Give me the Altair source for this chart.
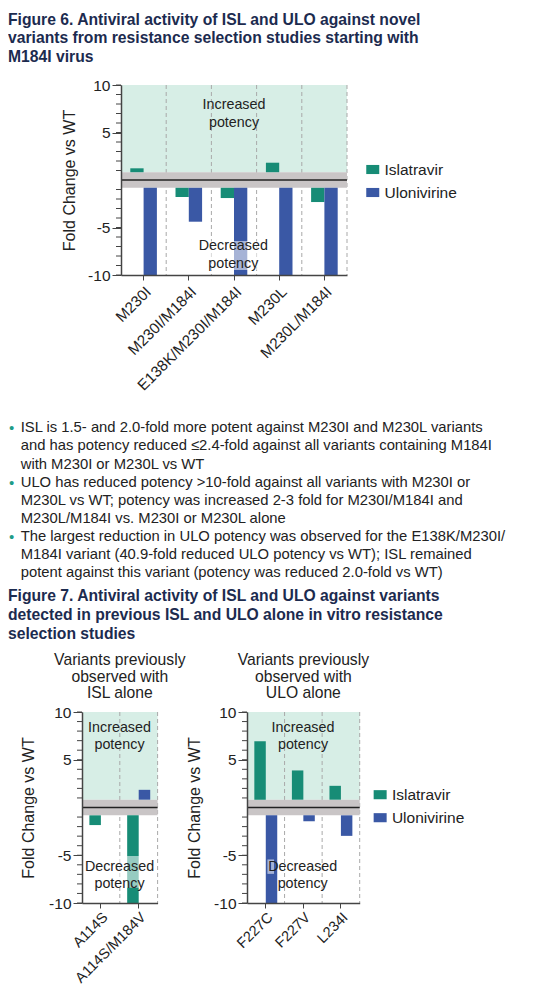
import altair as alt
import numpy as np
import pandas as pd

FONT = "Liberation Sans"
NAVY = "#1c2b4f"
TXT = "#222222"
TEAL = "#178c76"
BLUE = "#3a58a5"
MINT = "#d7eee6"
BANDGRAY = "#c9c5c6"
GRID = "#a9a9a9"
AX = "#444444"
DOT = "#1f9c88"
BAND = 0.82

# ---------------- data ----------------
drugs = ["Islatravir", "Ulonivirine"]

fig6_variants = ["M230I", "M230I/M184I", "E138K/M230I/M184I", "M230L", "M230L/M184I"]
fig6_isl = [1.23, -1.79, -1.9, 1.82, -2.32]
fig6_ulo = [-10, -4.39, -10, -10, -10]

fig7a_variants = ["A114S", "A114S/M184V"]
fig7a_isl = [-1.84, -10]
fig7a_ulo = [0, 1.85]

fig7b_variants = ["F227C", "F227V", "L234I"]
fig7b_isl = [6.95, 3.88, 2.27]
fig7b_ulo = [-10, -1.43, -2.97]

major_ticks = [-10, -5, 5, 10]
minor_ticks = [v for v in range(-10, 11) if v != 0]

fig6_title = ["Figure 6. Antiviral activity of ISL and ULO against novel",
              "variants from resistance selection studies starting with",
              "M184I virus"]
bullet_lines = [
    "ISL is 1.5- and 2.0-fold more potent against M230I and M230L variants",
    "and has potency reduced \u22642.4-fold against all variants containing M184I",
    "with M230I or M230L vs WT",
    "ULO has reduced potency >10-fold against all variants with M230I or",
    "M230L vs WT; potency was increased 2-3 fold for M230I/M184I and",
    "M230L/M184I vs. M230I or M230L alone",
    "The largest reduction in ULO potency was observed for the E138K/M230I/",
    "M184I variant (40.9-fold reduced ULO potency vs WT); ISL remained",
    "potent against this variant (potency was reduced 2.0-fold vs WT)",
]
bullet_flags = [1, 0, 0, 1, 0, 0, 1, 0, 0]
fig7_title = ["Figure 7. Antiviral activity of ISL and ULO against variants",
              "detected in previous ISL and ULO alone in vitro resistance",
              "selection studies"]
panel_a_title = ["Variants previously", "observed with", "ISL alone"]
panel_b_title = ["Variants previously", "observed with", "ULO alone"]


def one():
    return pd.DataFrame({"k": [0]})


def panel(variants, isl, ulo, W, H, title_x, pad, notes, box,
          legend_xy=None, head=None, xfs=15.3, xpad=4):
    n = len(variants)
    df = pd.DataFrame({
        "variant": list(variants) * 2,
        "drug": [drugs[0]] * n + [drugs[1]] * n,
        "value": list(isl) + list(ulo),
    })
    df["base"] = np.sign(df["value"]) * BAND
    dvar = pd.DataFrame({"variant": list(variants)})

    ysc = alt.Scale(domain=[-10, 10], nice=False, zero=False)
    yax = alt.Axis(values=major_ticks, labelExpr="toString(datum.value)",
                   tickSize=9, tickColor=AX, tickWidth=1,
                   domainColor=AX, domainWidth=1.5, grid=False,
                   labelFontSize=15.5, labelFont=FONT, labelColor=TXT, labelPadding=2,
                   title="Fold Change vs WT", titleFontSize=16, titleFont=FONT,
                   titleFontWeight="normal", titleColor=TXT,
                   titleX=title_x, titleY=H / 2, titleAngle=270,
                   titleAlign="center", titleBaseline="middle", zindex=1)
    xsc = alt.Scale(paddingInner=0, paddingOuter=0)
    xax = alt.Axis(labelAngle=315, labelAlign="right", labelBaseline="top",
                   labelPadding=xpad, labelFontSize=xfs, labelFont=FONT, labelColor=TXT,
                   labelOverlap=False, labelLimit=400, tickSize=5, tickColor=AX,
                   domainColor=AX, domainWidth=1.5, grid=False, title=None, zindex=1)

    def X(**kw):
        return alt.X("variant:N", sort=list(variants), scale=xsc, axis=xax, title=None, **kw)

    def Yd(v):
        return alt.YDatum(v, type="quantitative", scale=ysc, axis=yax)

    bg = alt.Chart(one()).mark_rect(color=MINT).encode(
        x=alt.value(0), x2=alt.value(W), y=Yd(BAND), y2=alt.datum(10))
    rules = alt.Chart(dvar).mark_rule(color=GRID, strokeDash=[4, 3], strokeWidth=1).encode(
        x=X(bandPosition=1), y=Yd(10), y2=alt.datum(-10))
    band = alt.Chart(one()).mark_rect(color=BANDGRAY).encode(
        x=alt.value(0), x2=alt.value(W), y=Yd(-BAND), y2=alt.datum(BAND))
    zero = alt.Chart(one()).mark_rule(color=TXT, strokeWidth=1.3).encode(
        x=alt.value(0), x2=alt.value(W), y=Yd(0))
    minor = alt.Chart(pd.DataFrame({"t": minor_ticks})).mark_rule(color=AX, strokeWidth=1).encode(
        x=alt.value(-5), x2=alt.value(0),
        y=alt.Y("t:Q", scale=ysc, axis=yax))

    if legend_xy is None:
        leg = None
    else:
        leg = alt.Legend(title=None, orient="none", legendX=legend_xy[0], legendY=legend_xy[1],
                         symbolType="M-1,-0.7L1,-0.7L1,0.7L-1,0.7Z", symbolSize=169,
                         symbolStrokeWidth=0, labelFontSize=15.5, labelFont=FONT,
                         labelColor=TXT, rowPadding=6, labelOffset=4, padding=0,
                         direction="vertical")
    bars = alt.Chart(df).mark_bar().encode(
        x=X(),
        xOffset=alt.XOffset("drug:N", sort=drugs,
                            scale=alt.Scale(paddingInner=0, paddingOuter=pad)),
        y=alt.Y("value:Q", scale=ysc, axis=yax),
        y2="base",
        color=alt.Color("drug:N", scale=alt.Scale(domain=drugs, range=[TEAL, BLUE]), legend=leg),
    )
    wbox = alt.Chart(one()).mark_rect(color="white", opacity=0.55).encode(
        x=alt.value(box[0]), x2=alt.value(box[1]), y=Yd(box[2]), y2=alt.datum(box[3]))
    layers = [bg, rules, band, zero, minor, bars, wbox]
    for txt, xr, yv in notes:
        layers.append(alt.Chart(one()).mark_text(
            text=txt, fontSize=14.3, font=FONT, color=TXT, align="center", baseline="middle"
        ).encode(x=alt.value(xr), y=Yd(yv)))
    ch = alt.layer(*layers).properties(width=W, height=H)
    if head is not None:
        ch = ch.properties(title=alt.TitleParams(
            text=head, fontSize=15.7, font=FONT, fontWeight="normal", color=TXT,
            anchor="middle", frame="group", baseline="bottom", offset=-12, lineHeight=16.7))
    return ch


fig6 = panel(fig6_variants, fig6_isl, fig6_ulo, 226, 190, -52, 0.7,
             [("Increased", 113, 7.89), ("potency", 113, 6.03),
              ("Decreased", 112.3, -6.95), ("potency", 112.3, -8.81)],
             (77, 147, -6.42, -9.47), legend_xy=(244, 76.75))
left = panel(fig7a_variants, fig7a_isl, fig7a_ulo, 75.6, 191, -54, 0.64,
             [("Increased", 37.5, 8.35), ("potency", 37.5, 6.53),
              ("Decreased", 37.5, -6.26), ("potency", 37.5, -8.06)],
             (3, 72, -5.09, -8.41), head=panel_a_title, xfs=14.5, xpad=2)
right = panel(fig7b_variants, fig7b_isl, fig7b_ulo, 112.7, 191, -53, 0.64,
              [("Increased", 56, 8.35), ("potency", 56, 6.53),
               ("Decreased", 55.7, -6.26), ("potency", 55.7, -8.06)],
              (20.4, 27, -5.44, -6.95), legend_xy=(125.4, 74.95), head=panel_b_title,
              xfs=14.5, xpad=2)


def lines_layer(lines, y0, step, x, size, weight, color):
    n = len(lines)
    d = pd.DataFrame({"i": list(range(n)), "t": lines})
    return alt.Chart(d).mark_text(
        align="left", baseline="middle", fontSize=size, fontWeight=weight,
        color=color, font=FONT
    ).encode(
        x=alt.value(x),
        y=alt.Y("i:Q", axis=None, scale=alt.Scale(domain=[0, n - 1],
                range=[y0, y0 + step * (n - 1)], nice=False, zero=False)),
        text="t:N")


headA = lines_layer(fig6_title, 11.5, 18.65, 0, 15.7, "bold", NAVY).properties(width=533, height=70)

bdf = pd.DataFrame({"i": list(range(len(bullet_lines))), "t": bullet_lines, "b": bullet_flags})
B0 = 34.4
bscale = alt.Scale(domain=[0, len(bullet_lines) - 1],
                   range=[B0, B0 + 18.07 * (len(bullet_lines) - 1)], nice=False, zero=False)
btext = alt.Chart(bdf).mark_text(align="left", baseline="middle", fontSize=14.8,
                                 color=TXT, font=FONT).encode(
    x=alt.value(12.7), y=alt.Y("i:Q", axis=None, scale=bscale), text="t:N")
bdots = alt.Chart(bdf).transform_filter("datum.b == 1").mark_text(
    text="\u2022", align="center", baseline="middle", fontSize=15, color=DOT, font=FONT
).encode(x=alt.value(3.7), y=alt.Y("i:Q", axis=None, scale=bscale))
head7 = lines_layer(fig7_title, 202, 18.85, 0, 15.7, "bold", NAVY)
textB = alt.layer(btext, bdots, head7).resolve_scale(y="independent").properties(width=533, height=257)


def spacer(w):
    return alt.Chart(one()).mark_point(opacity=0, size=1).properties(width=w, height=1)


row6 = alt.hconcat(spacer(53), fig6, spacing=0).resolve_scale(color="independent", xOffset="independent")
row7 = alt.hconcat(spacer(12), left, right, spacing=0).resolve_scale(color="independent", xOffset="independent")

chart = alt.vconcat(headA, row6, textB, row7, spacing=0).resolve_scale(
    color="independent", xOffset="independent"
).properties(padding=0).configure(font=FONT).configure_view(stroke=None)

chart.save("out.html", embed_options={"renderer": "svg", "actions": False})
